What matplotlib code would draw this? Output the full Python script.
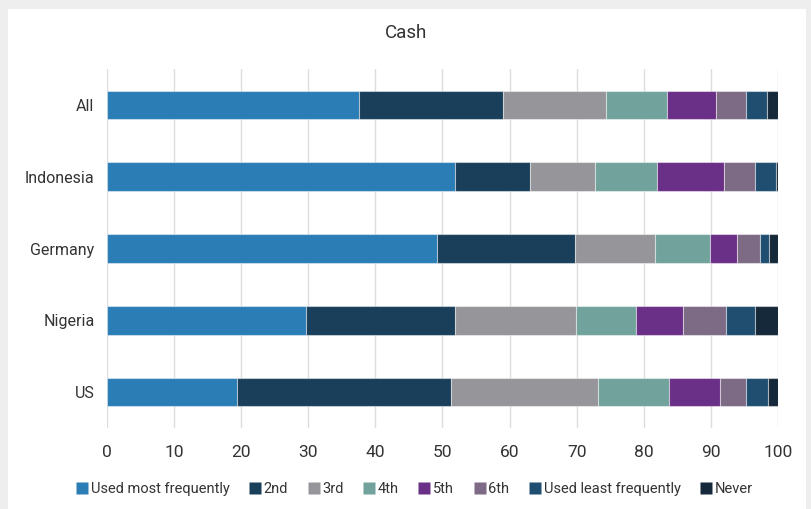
import numpy as np
import matplotlib.pyplot as plt
from matplotlib.patches import Rectangle
from matplotlib.lines import Line2D

plt.rcParams['font.family'] = ['Roboto', 'DejaVu Sans']

countries = ['All', 'Indonesia', 'Germany', 'Nigeria', 'US']
labels = ['Used most frequently', '2nd', '3rd', '4th', '5th', '6th',
          'Used least frequently', 'Never']
colors = ['#2a7db5', '#1a3f5a', '#96969a', '#72a29c', '#6a2f86', '#7d6b86',
          '#1f4e70', '#16293a']

# share per rank, one list per country (percent)
all_vals = [37.5, 21.5, 15.4, 9.1, 7.3, 4.5, 3.0, 1.7]
indonesia = [51.9, 11.1, 9.7, 9.3, 9.9, 4.6, 3.2, 0.3]
germany = [49.2, 20.5, 12.0, 8.1, 4.1, 3.4, 1.4, 1.3]
nigeria = [29.7, 22.2, 18.0, 8.9, 7.1, 6.3, 4.3, 3.5]
us = [19.4, 31.9, 21.8, 10.6, 7.7, 3.8, 3.3, 1.5]

data = np.array([all_vals, indonesia, germany, nigeria, us])

fig = plt.figure(figsize=(8.12, 5.09), dpi=100, facecolor='#eeeeee')
fig.patches.append(Rectangle((8 / 812, 0), 798 / 812, 500 / 509,
                             transform=fig.transFigure, facecolor='white',
                             edgecolor='none', zorder=-10))

ax = fig.add_axes([107 / 812, 1 - 428 / 509, 671 / 812, 359 / 509])
ax.set_facecolor('none')

y = np.arange(len(countries))
left = np.zeros(len(countries))
for i, lab in enumerate(labels):
    ax.barh(y, data[:, i], left=left, height=0.4, color=colors[i],
            edgecolor=(1, 1, 1, 0.45), linewidth=0.8, zorder=2)
    left += data[:, i]

ax.set_xlim(0, 100)
ax.set_ylim(len(countries) - 0.5, -0.5)
ax.set_xticks(np.arange(0, 101, 10))
ax.set_yticks(y)
ax.set_yticklabels(countries)
ax.grid(axis='x', color='#dddddd', linewidth=1, zorder=0)
ax.set_axisbelow(True)
for s in ax.spines.values():
    s.set_visible(False)
ax.tick_params(axis='both', length=0, colors='#333333')
ax.tick_params(axis='x', pad=12, labelsize=12.5)
ax.tick_params(axis='y', pad=9, labelsize=11.5)

fig.text(0.5, 1 - 33 / 509, 'Cash', ha='center', va='center',
         fontsize=13.5, color='#333333')

handles = [Line2D([], [], marker='s', linestyle='none', markersize=9,
                  markerfacecolor=c, markeredgecolor='none') for c in colors]
fig.legend(handles, labels, loc='center', bbox_to_anchor=(0.51, 1 - 489 / 509),
           ncol=8, frameon=False, fontsize=10.5, handletextpad=0.15,
           columnspacing=1.3, handlelength=0.9, labelcolor='#333333')

fig.savefig('out.png', dpi=100, facecolor=fig.get_facecolor())
